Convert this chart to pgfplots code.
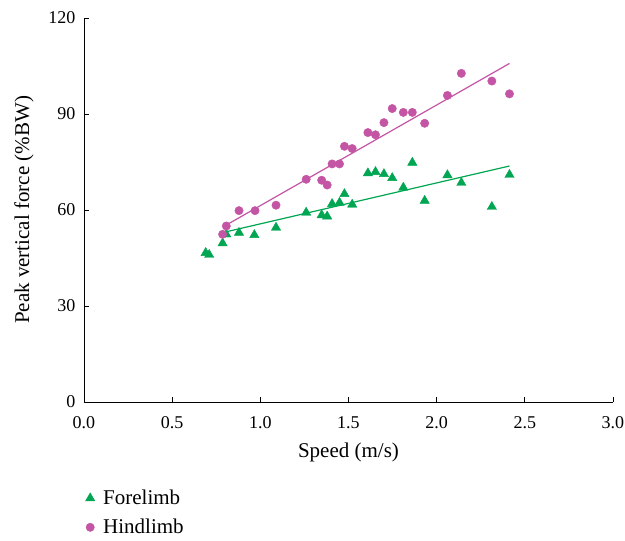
\documentclass[border=0pt]{standalone}
\usepackage{fontspec}
\setmainfont{Liberation Serif}
\usepackage{pgfplots}
\pgfplotsset{compat=1.18}
\definecolor{fgreen}{RGB}{0,166,81}
\definecolor{hpink}{RGB}{196,84,164}

\begin{document}
\begin{tikzpicture}[x=1pt,y=1pt]
\begin{axis}[
  at={(0,0)}, anchor=south west,
  scale only axis,
  width=529pt, height=384pt,
  xmin=0, xmax=3, ymin=0, ymax=120,
  axis x line*=bottom, axis y line*=left,
  axis line style={line width=0.8pt},
  xtick={0,0.5,...,3}, ytick={0,30,60,90,120},
  tick align=inside, major tick length=5pt,
  tick style={black, line width=0.8pt},
  /pgf/number format/assume math mode=true,
  xticklabel style={yshift=-11pt, /pgf/number format/fixed, /pgf/number format/fixed zerofill, /pgf/number format/precision=1},
  yticklabel style={xshift=-5pt},
  tick label style={font=\fontsize{18}{21}\selectfont},
  label style={font=\fontsize{21}{24}\selectfont},
  xlabel={Speed (m/s)}, ylabel={Peak vertical force (\%BW)},
  xlabel style={yshift=-7pt},
  ylabel style={yshift=8pt},
  legend style={at={(0,0)}, anchor=north west, xshift=-2pt, yshift=-84pt,
    draw=none, fill=none, font=\fontsize{21}{24}\selectfont, row sep=9pt},
  legend cell align=left,
  legend image code/.code={\path[draw=none] (0pt,0pt) (16pt,0pt); \draw plot coordinates {(5pt,0pt)};},
]
% forelimb
\addplot[only marks, mark=triangle*, mark size=5.4pt, color=fgreen] coordinates {
 (0.69,46.6) (0.71,46.0) (0.786,49.6) (0.807,52.4) (0.879,52.9) (0.966,52.2)
 (1.089,54.5) (1.26,59.2) (1.348,58.4) (1.379,58.0) (1.407,61.9) (1.449,62.3)
 (1.477,65.0) (1.521,61.7) (1.610,71.5) (1.653,71.9) (1.701,71.25) (1.748,70.0)
 (1.811,67.0) (1.862,74.8) (1.932,62.9) (2.061,70.9) (2.140,68.5) (2.313,61.0)
 (2.413,71.0)
};
\addlegendentry{Forelimb}
% hindlimb
\addplot[only marks, mark=*, mark size=4.2pt, color=hpink] coordinates {
 (0.786,52.4) (0.807,55.0) (0.879,59.8) (0.970,59.8) (1.089,61.5) (1.260,69.6)
 (1.348,69.3) (1.379,67.8) (1.407,74.4) (1.449,74.4) (1.477,79.9) (1.521,79.2)
 (1.610,84.2) (1.653,83.5) (1.701,87.3) (1.748,91.7) (1.811,90.5) (1.862,90.5)
 (1.932,87.1) (2.061,95.8) (2.140,102.7) (2.313,100.3) (2.413,96.3)
};
\addlegendentry{Hindlimb}
% fitted lines
\addplot[fgreen, line width=1.2pt, forget plot] coordinates {(0.807,53.2) (2.413,73.75)};
\addplot[hpink, line width=1.2pt, forget plot] coordinates {(0.807,55.3) (2.413,105.8)};
\end{axis}
\pgfresetboundingbox
\path (-84,-139) rectangle (541,402);
\end{tikzpicture}
\end{document}
